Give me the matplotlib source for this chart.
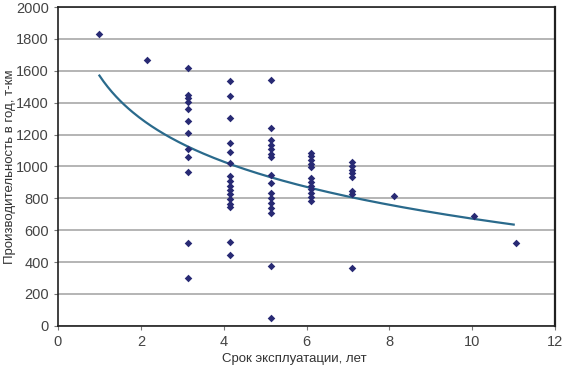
import numpy as np
import matplotlib
matplotlib.use("Agg")
import matplotlib.pyplot as plt

plt.rcParams['font.family'] = ['Liberation Sans Narrow', 'Liberation Sans', 'DejaVu Sans']

# Srok ekspluatacii (let) a proizvoditelnost (t-km za god)
age = [1.0, 2.15,
       3.15, 3.15, 3.15, 3.15, 3.15, 3.15, 3.15, 3.15, 3.15, 3.15, 3.15, 3.15,
       4.15, 4.15, 4.15, 4.15, 4.15, 4.15, 4.15, 4.15, 4.15, 4.15, 4.15, 4.15, 4.15, 4.15, 4.15, 4.15,
       5.15, 5.15, 5.15, 5.15, 5.15, 5.15, 5.15, 5.15, 5.15, 5.15, 5.15, 5.15, 5.15, 5.15, 5.15, 5.15,
       6.1, 6.1, 6.1, 6.1, 6.1, 6.1, 6.1, 6.1, 6.1, 6.1, 6.1, 6.1,
       7.1, 7.1, 7.1, 7.1, 7.1, 7.1, 7.1, 7.1,
       8.1, 10.05, 11.05]
output = [1830, 1665,
          1615, 1448, 1427, 1406, 1358, 1287, 1211, 1109, 1061, 967, 517, 297,
          1536, 1444, 1301, 1144, 1088, 1019, 939, 908, 877, 851, 826, 795, 764, 747, 527, 444,
          1542, 1238, 1165, 1134, 1107, 1075, 1056, 946, 893, 831, 799, 768, 736, 705, 374, 46,
          1087, 1067, 1042, 1015, 994, 927, 904, 879, 859, 834, 807, 782,
          1025, 1004, 979, 956, 931, 848, 827, 364,
          813, 688, 520]

# logaritmicky trend z obrazku: y = a + b*ln(x), x od 1 do 11
trend_a = 1570
trend_b = -390
trend_range = (1, 11)

x = np.array(age)
y = np.array(output)
t = np.linspace(trend_range[0], trend_range[1], 200)

fig = plt.figure(figsize=(5.63, 3.71), dpi=100)
ax = fig.add_axes([0.103, 0.122, 0.883, 0.859])

ax.scatter(x, y, marker='D', s=15, color='#282a74', zorder=3, linewidths=0)
ax.plot(t, trend_a + trend_b * np.log(t), color='#2a6a8c', lw=1.6, zorder=2)

ax.set_xlim(0, 12)
ax.set_ylim(0, 2000)
ax.set_xticks(np.arange(0, 13, 2))
ax.set_yticks(np.arange(0, 2001, 200))
ax.yaxis.grid(True, color='#a8a8a8', lw=1.2)
ax.set_axisbelow(True)
for side in ['left', 'bottom', 'right', 'top']:
    ax.spines[side].set_color('#202020')
ax.spines['left'].set_linewidth(1.2)
ax.spines['bottom'].set_linewidth(1.2)
ax.spines['right'].set_linewidth(1.6)
ax.spines['top'].set_linewidth(1.2)
ax.tick_params(axis='both', labelsize=10.5, labelcolor='#444444', color='#777777', length=3)

ax.set_xlabel('Срок эксплуатации, лет', fontsize=9.5, color='#333333', fontstretch='condensed')
ax.xaxis.set_label_coords(0.475, -0.085)
ax.set_ylabel('Производительность в год, т-км', fontsize=9.5, color='#333333', fontstretch='condensed')
ax.yaxis.set_label_coords(-0.085, 0.5)

fig.savefig('out.png', dpi=100)
